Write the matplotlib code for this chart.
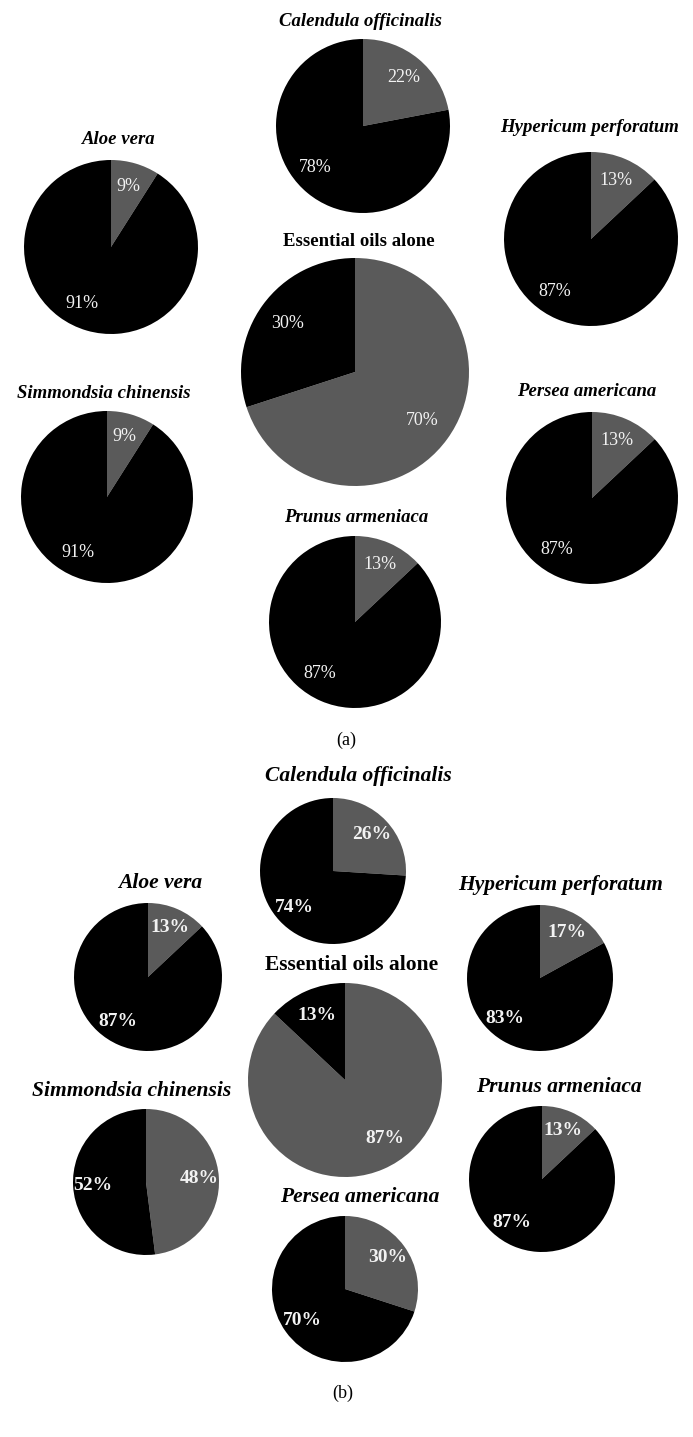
import numpy as np
import matplotlib
matplotlib.use("Agg")
import matplotlib.pyplot as plt

plt.rcParams['font.family'] = ['Liberation Serif', 'DejaVu Serif']

W, H = 693, 1437

# panel (a)
names_a = ["Calendula officinalis", "Aloe vera", "Hypericum perforatum",
           "Essential oils alone", "Simmondsia chinensis", "Persea americana",
           "Prunus armeniaca"]
grey_a = [22, 9, 13, 70, 9, 13, 13]
black_a = [78, 91, 87, 30, 91, 87, 87]

# panel (b)
names_b = ["Calendula officinalis", "Aloe vera", "Hypericum perforatum",
           "Essential oils alone", "Simmondsia chinensis", "Prunus armeniaca",
           "Persea americana"]
grey_b = [26, 13, 17, 87, 48, 13, 30]
black_b = [74, 87, 83, 13, 52, 87, 70]

# layout in pixels (x, y from top): pie centre, radius, title position
pies_a = [(363, 126, 87), (111, 247, 87), (591, 239, 87), (355, 372, 114),
          (107, 497, 86), (592, 498, 86), (355, 622, 86)]
titles_a = [(360, 21), (119, 140), (590, 128), (359, 241),
            (104, 393), (587, 392), (356, 518)]
pies_b = [(333, 871, 73), (148, 977, 74), (540, 978, 73), (345, 1080, 97),
          (146, 1182, 73), (542, 1179, 73), (345, 1289, 73)]
titles_b = [(358, 776), (160, 883), (561, 885), (352, 965),
            (132, 1091), (559, 1087), (360, 1197)]

GREY = '#5a5a5a'
BLACK = '#000000'
TXT = '#f2f2f2'

fig = plt.figure(figsize=(W / 100, H / 100), dpi=100, facecolor='white')
ax = fig.add_axes([0, 0, 1, 1])


def draw_panel(names, greys, blacks, pies, titles, title_size, pct_size, pct_weight):
    for name, g, b, (cx, cy, r), (tx, ty) in zip(names, greys, blacks, pies, titles):
        cy = H - cy
        wedges, _ = ax.pie([g, b], colors=[GREY, BLACK], startangle=90,
                           counterclock=False, center=(cx, cy), radius=r,
                           wedgeprops=dict(linewidth=0))
        for w, v in zip(wedges, [g, b]):
            mid = np.deg2rad((w.theta1 + w.theta2) / 2)
            if v > 75:
                # big wedges: label sits a bit closer to the horizontal
                mid += np.deg2rad(-12 * np.sin(mid) * np.sign(np.cos(mid)))
            d = 0.73 * r
            ax.text(cx + d * np.cos(mid), cy + d * np.sin(mid), f"{v}%",
                    ha='center', va='center', color=TXT,
                    fontsize=pct_size, fontweight=pct_weight)
        style = 'normal' if name.startswith("Essential") else 'italic'
        ax.text(tx, H - ty, name, ha='center', va='center', fontsize=title_size,
                fontweight='bold', fontstyle=style, color='black')


draw_panel(names_a, grey_a, black_a, pies_a, titles_a, 13.5, 13, 'normal')
draw_panel(names_b, grey_b, black_b, pies_b, titles_b, 15.5, 14, 'bold')

ax.text(346, H - 740, "(a)", ha='center', va='center', fontsize=13)
ax.text(343, H - 1393, "(b)", ha='center', va='center', fontsize=13)

ax.set_xlim(0, W)
ax.set_ylim(0, H)
ax.set_aspect('auto')
ax.axis('off')

fig.savefig("out.png", dpi=100, facecolor='white')
